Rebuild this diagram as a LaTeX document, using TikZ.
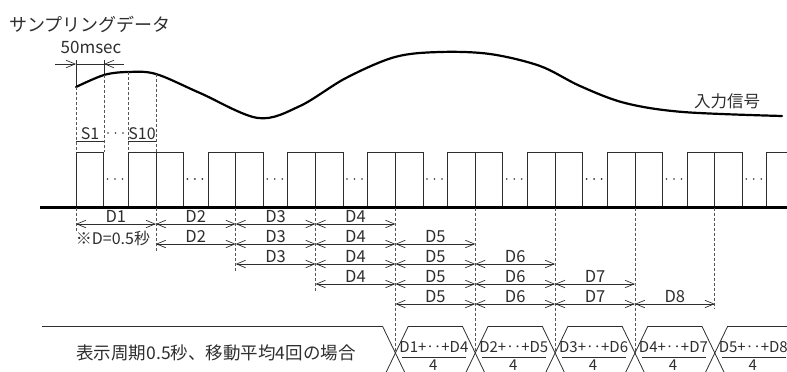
\documentclass[tikz,border=0pt]{standalone}
\usepackage{fontspec}
\setmainfont{Noto Sans CJK JP}
\usetikzlibrary{arrows.meta}
\definecolor{ink}{HTML}{2E2E2E}
\definecolor{dashgray}{HTML}{555555}
\begin{document}
\begin{tikzpicture}[x=1pt,y=-1pt,
  lbl/.style={text=ink, inner sep=0pt, font=\fontsize{16.5}{17}\selectfont},
  frac/.style={text=ink, inner sep=0pt, font=\fontsize{15}{16}\selectfont},
  pulseline/.style={draw=ink, line width=0.7pt},
  sigline/.style={draw=black, line width=2.2pt, line cap=round},
  guide/.style={draw=dashgray, line width=0.7pt, dash pattern=on 3pt off 2pt},
  dimarrow/.style={draw=ink, line width=0.7pt, {Straight Barb[length=9pt,width=7.5pt]}-{Straight Barb[length=9pt,width=7.5pt]}},
  headarrow/.style={draw=ink, line width=0.7pt, -{Straight Barb[length=9pt,width=7.5pt]}},
  busline/.style={draw=ink, line width=0.8pt}]
\useasboundingbox (0,0) rectangle (787,372);
\clip (0,0) rectangle (787,372);

% titles
\node[text=ink, inner sep=0pt, font=\fontsize{18}{20}\selectfont] (title) at (90,24) {サンプリングデータ};
\node[text=ink, inner sep=0pt, font=\fontsize{17}{18}\selectfont] (ms) at (91,47) {50msec};
\node[text=ink, inner sep=0pt, font=\fontsize{16.5}{18}\selectfont] (sig) at (727,101) {入力信号};

% 50msec dimension
\coordinate (m0) at (55,64);
\coordinate (m1) at (76,64);
\coordinate (m2) at (104,64);
\coordinate (m3) at (124,64);
\draw[headarrow] (m0) -- (m1);
\draw[headarrow] (m3) -- (m2);
\draw[draw=ink, line width=0.7pt] (m1) -- (m2);
\draw[draw=ink, line width=0.7pt] (76,60) -- (76,87);
\draw[draw=ink, line width=0.7pt] (104,60) -- (104,75);

% input signal curve
\draw[sigline] plot[smooth, tension=0.55] coordinates {
  (76,87) (104,75) (128,72) (156,74) (200,93) (258,118) (300,106) (346,78)
  (395,57) (440,52) (490,54) (540,66) (580,86) (625,103) (683,112) (782,116)};

% guides above pulses
\draw[guide] (76,87) -- (76,152);
\draw[guide] (104,75) -- (104,152);
\draw[guide] (128,72) -- (128,152);
\draw[guide] (156,74) -- (156,152);

% S1 ... S10
\draw[draw=ink, line width=0.7pt] (76,141.7) -- (104,141.7);
\draw[draw=ink, line width=0.7pt] (128,141.7) -- (156,141.7);
\node[lbl, font=\fontsize{16}{16}\selectfont] (s1) at (90,133.5) {S1};
\node[lbl, font=\fontsize{16}{16}\selectfont] (s10) at (142,133.5) {S10};
\foreach \d in {108,115.5,123} \fill[ink] (\d,133) circle (0.9);

% pulses
\foreach \k in {0,...,8} {
  \pgfmathsetmacro\p{76+79.85*\k}
  \draw[pulseline] (\p,207.5) -- (\p,152) -- (\p+27.5,152) -- (\p+27.5,207.5);
  \draw[pulseline] (\p+52,207.5) -- (\p+52,152) -- (\p+79.85,152) -- (\p+79.85,207.5);
  \foreach \d in {31.5,39,46.5} \fill[ink] (\p+\d,179) circle (0.9);
}
% baseline
\draw[draw=black, line width=2.2pt] (40,207.5) -- (790,207.5);

% guides below baseline
\draw[guide] (76,208) -- (76,233);
\draw[guide] (156,208) -- (156,252);
\draw[guide] (235.7,208) -- (235.7,272);
\draw[guide] (315.55,208) -- (315.55,292);
\foreach \k in {4,...,7} {
  \pgfmathsetmacro\p{76+79.85*\k}
  \draw[guide] (\p,208) -- (\p,353);
}
\draw[guide] (714.8,208) -- (714.8,309);

% D rows
\foreach \r in {1,...,5} {
  \pgfmathsetmacro\yy{224+20*(\r-1)}
  \foreach \j in {0,...,3} {
    \pgfmathtruncatemacro\n{\r+\j}
    \pgfmathsetmacro\a{76+79.85*(\n-1)}
    \draw[dimarrow] (\a,\yy) -- (\a+79.85,\yy);
    \node[lbl] (d\r\j) at (\a+39.9,\yy-7.8) {D\n};
  }
}
\node[lbl, font=\fontsize{16}{16}\selectfont] (note) at (113,238.5) {※D=0.5秒};

% bus
\node[text=ink, inner sep=0pt, font=\fontsize{17.5}{19}\selectfont] (cond) at (216,353) {表示周期0.5秒、移動平均4回の場合};
\draw[busline] (42,326) -- (382.4,326);
\foreach \i in {0,...,4} {
  \pgfmathsetmacro\c{76+79.85*(4+\i)}
  \draw[busline] (\c-13,326) -- (\c+13,380);
  \draw[busline] (\c-13,380) -- (\c+13,326);
}
\foreach \i in {0,...,3} {
  \pgfmathsetmacro\c{76+79.85*(4+\i)}
  \draw[busline] (\c+13,326) -- (\c+79.85-13,326);
}
\draw[busline] (727.8,326) -- (800,326);

% fractions
\foreach \i/\a/\b in {0/1/4,1/2/5,2/3/6,3/4/7,4/5/8} {
  \pgfmathsetmacro\c{76+79.85*(4+\i)}
  \node[frac] (num\i) at (\c+38.5,347) {D\a+‥+D\b};
  \draw[draw=ink, line width=0.7pt] (\c+7,357.5) -- (\c+71,357.5);
  \node[frac] (den\i) at (\c+38,365.5) {4};
}
\end{tikzpicture}
\end{document}
